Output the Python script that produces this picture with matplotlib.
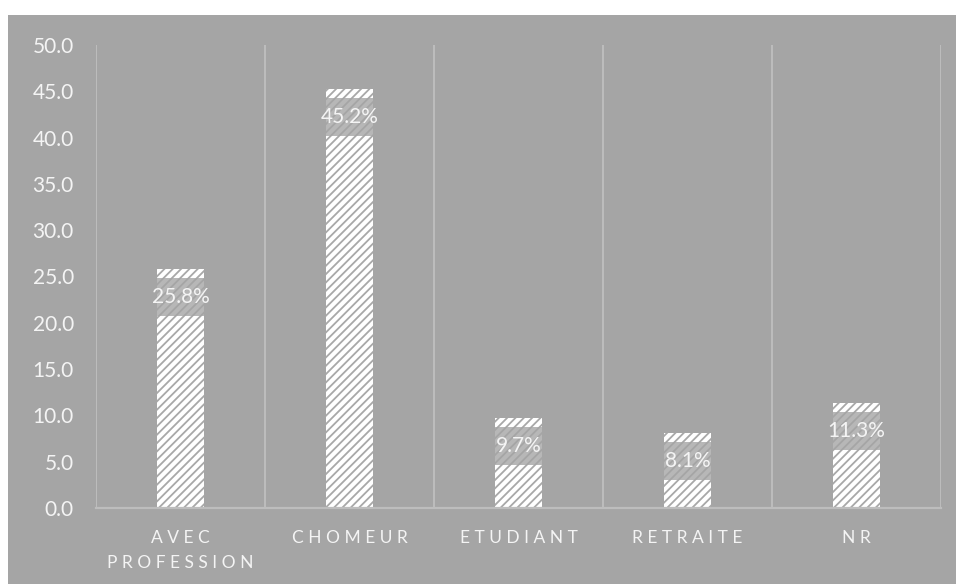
import matplotlib as mpl
import matplotlib.pyplot as plt
from matplotlib.patches import Rectangle

categories = ["AVEC\nPROFESSION", "CHOMEUR", "ETUDIANT", "RETRAITE", "NR"]
values = [25.8, 45.2, 9.7, 8.1, 11.3]
y_ticks = [0, 5, 10, 15, 20, 25, 30, 35, 40, 45, 50]

BG = "#a5a5a5"
GRID = "#bdbdbd"
INK = "#f4f4f4"
HATCH = "#a8a8a8"

mpl.rcParams["font.family"] = ["Lato", "DejaVu Sans"]
mpl.rcParams["hatch.linewidth"] = 1.3


def spaced(label):
    # emulate Excel's character spacing on category labels
    return "\n".join(" ".join(line) for line in label.split("\n"))


fig = plt.figure(figsize=(9.57, 5.84), dpi=100, facecolor="white")
fig.patches.append(Rectangle((8 / 957, 0), 948 / 957, 569 / 584,
                             transform=fig.transFigure, facecolor=BG,
                             edgecolor="none", zorder=-10))

ax = fig.add_axes([96 / 957, 76 / 584, 845 / 957, 463 / 584])
ax.set_facecolor("none")

x = range(len(categories))
bars = ax.bar(x, values, width=0.28, facecolor="white", edgecolor=HATCH,
              hatch="////", linewidth=0, zorder=2)

# data labels: grey box across the bar just under its top, white text
for b, v in zip(bars, values):
    ax.add_patch(Rectangle((b.get_x(), v - 5.05), b.get_width(), 4.1,
                           facecolor=BG, alpha=0.8, edgecolor="none",
                           zorder=3))
    ax.text(b.get_x() + b.get_width() / 2, v - 3.0, f"{v:.1f}%",
            ha="center", va="center", color=INK, fontsize=15, zorder=4)

ax.set_xlim(-0.5, len(categories) - 0.5)
ax.set_ylim(0, 50)
ax.set_yticks(y_ticks)
ax.set_yticklabels([f"{t:.1f}" for t in y_ticks])
ax.set_xticks(list(x))
ax.set_xticklabels([spaced(c) for c in categories], linespacing=1.7)
ax.tick_params(axis="y", length=0, pad=16, labelsize=15, labelcolor=INK)
ax.tick_params(axis="x", length=0, pad=16, labelsize=12.5, labelcolor=INK)

for k in range(len(categories) + 1):
    ax.axvline(k - 0.5, color=GRID, lw=1.4, zorder=1)
for s in ["top", "left", "right"]:
    ax.spines[s].set_visible(False)
ax.spines["bottom"].set_color(GRID)
ax.spines["bottom"].set_linewidth(1.6)

fig.savefig("out.png", dpi=100, facecolor="white")
